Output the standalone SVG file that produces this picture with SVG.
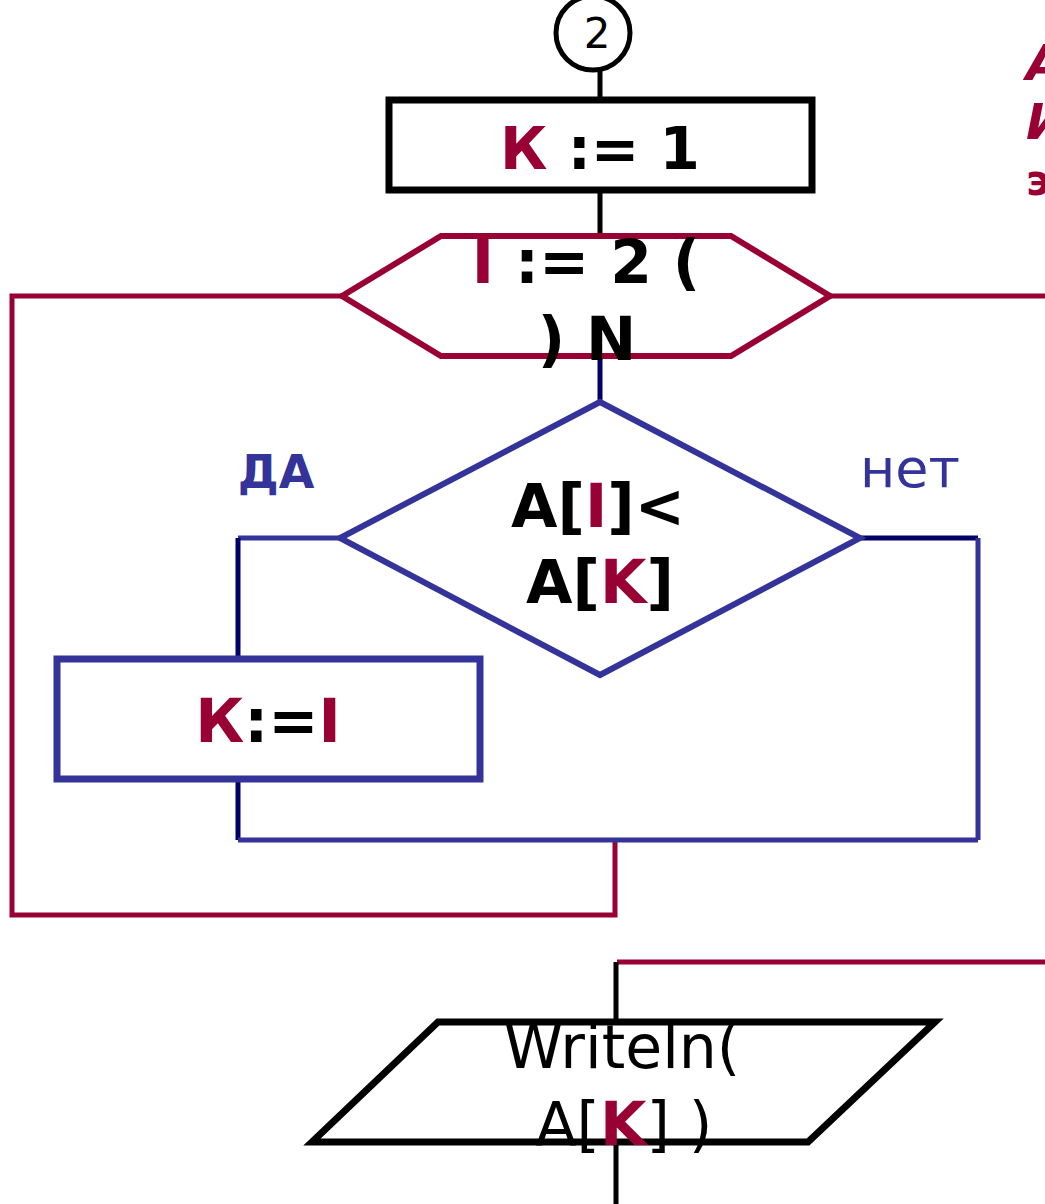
<svg xmlns="http://www.w3.org/2000/svg" width="1045" height="1204" viewBox="0 0 1045 1204">
<style>
text{font-family:"DejaVu Sans","Liberation Sans",sans-serif}
.b{font-weight:bold}
.r{fill:#990033}
.k{fill:#000}
.bl{fill:#333399}
.c{text-anchor:middle}
.lr{stroke:#990033;stroke-width:5;fill:none}
.lb{stroke:#333399;stroke-width:5;fill:none}
.ln{stroke:#000066;stroke-width:5;fill:none}
.lk{stroke:#000;stroke-width:5;fill:none}
</style>
<rect width="1045" height="1204" fill="#fff"/>
<g id="connectors">
<line class="lk" x1="600" y1="69" x2="600" y2="100"/>
<line class="lk" x1="600" y1="190" x2="600" y2="237"/>
<polyline class="lr" points="342,296 12,296 12,915 615,915 615,840"/>
<line class="lr" x1="830" y1="296" x2="1045" y2="296"/>
<line class="ln" x1="600" y1="356" x2="600" y2="402"/>
<line class="lb" x1="355" y1="538" x2="238" y2="538"/>
<line class="ln" x1="238" y1="538" x2="238" y2="659"/>
<polyline class="ln" points="238,779 238,840"/>
<line class="lb" x1="238" y1="840" x2="978" y2="840"/>
<line class="ln" x1="845" y1="538" x2="978" y2="538"/>
<line class="lb" x1="978" y1="538" x2="978" y2="840"/>
<line class="lr" x1="617" y1="962" x2="1045" y2="962"/>
<line class="lk" x1="616" y1="962" x2="616" y2="1022"/>
<line class="lk" x1="616" y1="1142" x2="616" y2="1204"/>
</g>
<g id="connector2">
<circle cx="593" cy="33" r="37" fill="#fff" stroke="#000" stroke-width="5"/>
<text x="597" y="48" class="c k" font-size="42">2</text>
</g>
<g id="assignK1">
<rect x="389" y="100" width="423" height="90" fill="#fff" stroke="#000" stroke-width="7"/>
<text x="600" y="169" class="c b" font-size="58"><tspan class="r">К</tspan><tspan class="k"> := 1</tspan></text>
</g>
<g id="loop">
<polygon points="342,296 441,236 731,236 830,296 731,356 441,356" fill="#fff" stroke="#990033" stroke-width="6"/>
<text x="586" y="283" class="c b" font-size="60"><tspan class="r">I</tspan><tspan class="k"> := 2 (</tspan></text>
<text x="587" y="360" class="c b k" font-size="60">) N</text>
</g>
<g id="condition">
<polygon points="600,402 860,538 600,675 340,538" fill="#fff" stroke="#333399" stroke-width="6"/>
<text x="598" y="527" class="c b" font-size="60"><tspan class="k">A[</tspan><tspan class="r">I</tspan><tspan class="k">]&lt;</tspan></text>
<text x="600" y="603" class="c b" font-size="60"><tspan class="k">A[</tspan><tspan class="r">K</tspan><tspan class="k">]</tspan></text>
<text x="276" y="488" class="c b bl" font-size="46">ДА</text>
<text x="910" y="487" class="c bl" font-size="54">нет</text>
</g>
<g id="assignKI">
<rect x="57" y="659" width="423" height="120" fill="#fff" stroke="#333399" stroke-width="7"/>
<text x="268" y="742" class="c b" font-size="60"><tspan class="r">К</tspan><tspan class="k">:=</tspan><tspan class="r">I</tspan></text>
</g>
<g id="output">
<polygon points="438,1022 935,1022 808,1142 312,1142" fill="#fff" stroke="#000" stroke-width="7"/>
<text x="622" y="1068" class="c k" font-size="60">Writeln(</text>
<text x="624" y="1145" class="c" font-size="60"><tspan class="k">A[</tspan><tspan class="r b">K</tspan><tspan class="k">] )</tspan></text>
</g>
<g id="note" class="b r" font-style="italic">
<text x="1026" y="80" font-size="50">А</text>
<text x="1026" y="139" font-size="50">И</text>
<text x="1026" y="195" font-size="42" font-style="normal">э</text>
</g>
</svg>
